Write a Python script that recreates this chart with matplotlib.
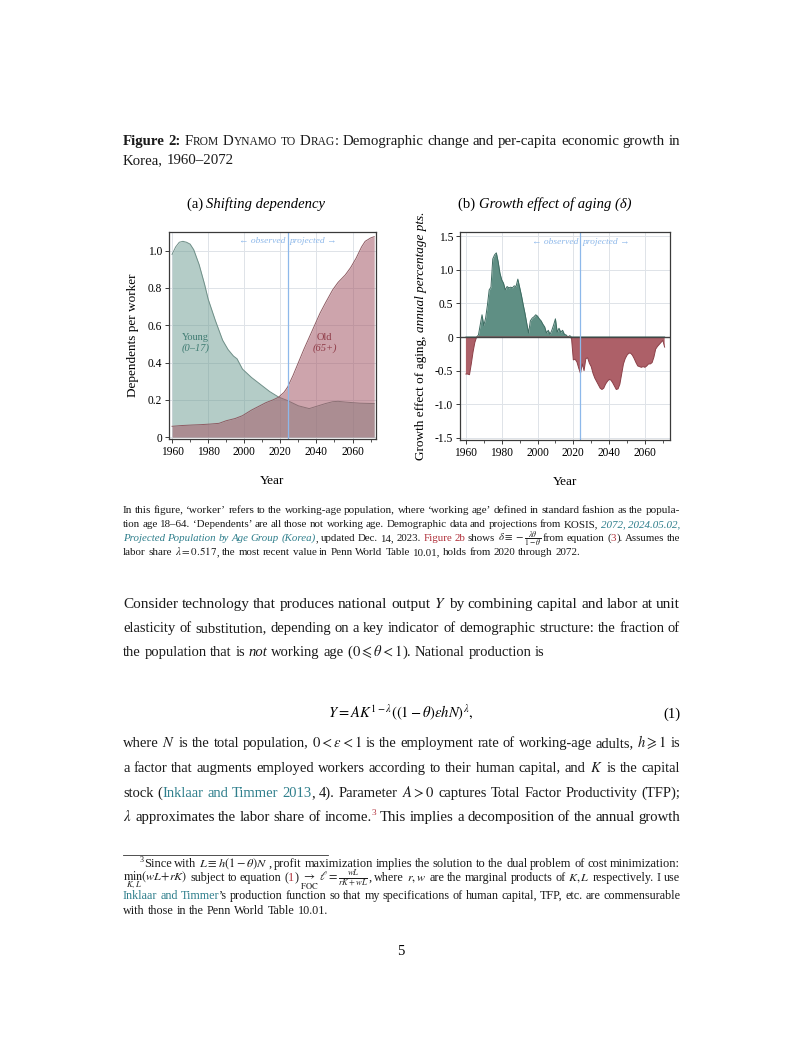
import matplotlib
matplotlib.use("Agg")
import matplotlib.pyplot as plt
import numpy as np

W, H = 802, 1037
SERIF = ["Liberation Serif", "DejaVu Serif"]
plt.rcParams["font.family"] = SERIF
plt.rcParams["mathtext.fontset"] = "stix"

# ---------------- data: panel (a) ----------------
young_years = [1960, 1962, 1964, 1966, 1968, 1970, 1972, 1975, 1978, 1980, 1984, 1988,
               1991, 1994, 1996, 1999, 2004, 2008, 2014, 2019, 2024, 2030, 2036, 2041,
               2045, 2049, 2052, 2056, 2060, 2064, 2068, 2072]
young_ratio = [0.98, 1.02, 1.045, 1.05, 1.045, 1.035, 1.005, 0.925, 0.82, 0.74, 0.625, 0.52,
               0.47, 0.435, 0.42, 0.365, 0.32, 0.29, 0.245, 0.215, 0.196, 0.168, 0.153, 0.168,
               0.18, 0.19, 0.192, 0.188, 0.185, 0.182, 0.181, 0.180]
old_years = [1960, 1965, 1971, 1976, 1981, 1986, 1990, 1995, 1999, 2004, 2008, 2012, 2016,
             2019, 2022, 2024, 2027, 2030, 2033, 2036, 2039, 2042, 2045, 2049, 2052, 2056,
             2059, 2062, 2065, 2067, 2070, 2072]
old_ratio = [0.058, 0.062, 0.065, 0.067, 0.070, 0.074, 0.088, 0.100, 0.115, 0.145, 0.165,
             0.185, 0.200, 0.214, 0.240, 0.268, 0.33, 0.40, 0.47, 0.535, 0.60, 0.665, 0.72,
             0.79, 0.83, 0.87, 0.91, 0.96, 1.02, 1.05, 1.068, 1.075]

# ---------------- data: panel (b) ----------------
delta_years = list(range(1960, 2072))
delta_vals = [-0.55, -0.55, -0.56, -0.40, -0.22, -0.08, 0.00, 0.03, 0.18, 0.33,
              0.17, 0.28, 0.47, 0.70, 0.74, 1.16, 1.22, 1.25, 1.12, 0.95,
              0.85, 0.80, 0.70, 0.75, 0.73, 0.74, 0.73, 0.76, 0.75, 0.86,
              0.74, 0.62, 0.48, 0.35, 0.20, 0.06, 0.24, 0.28, 0.30, 0.33,
              0.31, 0.27, 0.24, 0.19, 0.15, 0.06, 0.10, 0.04, 0.10, 0.18,
              0.27, 0.07, 0.13, 0.07, 0.10, 0.04, 0.03, 0.00, 0.02, -0.02,
              -0.34, -0.33, -0.37, -0.46, -0.54, -0.40, -0.50, -0.32, -0.31, -0.39,
              -0.44, -0.54, -0.61, -0.66, -0.71, -0.76, -0.78, -0.76, -0.70, -0.66,
              -0.63, -0.64, -0.68, -0.73, -0.78, -0.77, -0.70, -0.55, -0.40, -0.32,
              -0.27, -0.24, -0.24, -0.27, -0.32, -0.38, -0.43, -0.44, -0.45, -0.44,
              -0.45, -0.43, -0.40, -0.40, -0.38, -0.30, -0.18, -0.14, -0.11, -0.08,
              -0.05, -0.15]
split_year = 2024

TEAL = "#3f7c72"
RED = "#8f3b47"
BLUE = "#8db8ea"
TXT = "#1a1a1a"
LINK = "#2f7f8c"
REF = "#b0303a"

fig = plt.figure(figsize=(W / 100, H / 100), dpi=100)
R = fig.canvas.get_renderer()


def fx(x):
    return x / W


def fy(y):
    return 1 - y / H


def axes_px(l, t, r, b):
    return fig.add_axes([fx(l), fy(b), (r - l) / W, (b - t) / H])


def tokenize(segs):
    toks = [[]]
    for s, kw in segs:
        if s.startswith("$"):
            toks[-1].append((s, kw))
            continue
        parts = s.split(" ")
        for i, p in enumerate(parts):
            if i > 0:
                toks.append([])
            if p:
                toks[-1].append((p, kw))
    return [t for t in toks if t]


def space_width(size):
    a = fig.text(0, 0, "n n", fontsize=size, family=SERIF)
    b = fig.text(0, 0, "nn", fontsize=size, family=SERIF)
    sp = a.get_window_extent(R).width - b.get_window_extent(R).width
    a.remove(); b.remove()
    return max(sp, 0.25 * size * 1.389)


def build(segs, size, color=TXT):
    toks = tokenize(segs)
    objs, widths = [], []
    for tok in toks:
        parts, tw = [], 0
        for s, kw in tok:
            k = dict(fontsize=size, color=color, family=SERIF)
            k.update(kw)
            scale = k.pop("rel", None)
            if scale is not None:
                k["fontsize"] = size * scale
            rise = k.pop("rise", 0) * size
            t = fig.text(0, 0, s, va="baseline", ha="left", **k)
            w = t.get_window_extent(R).width
            parts.append((t, w, rise))
            tw += w
        objs.append(parts)
        widths.append(tw)
    return objs, widths


def natural(segs, size, x0, x1):
    objs, widths = build(segs, size)
    for parts in objs:
        for t, _, _ in parts:
            t.remove()
    return sum(widths) + space_width(size) * (len(widths) - 1), x1 - x0


def place(y, segs, size, x0=123, x1=680, justify=True):
    objs, widths = build(segs, size)
    sp = space_width(size)
    if justify and len(objs) > 1:
        gap = (x1 - x0 - sum(widths)) / (len(objs) - 1)
    else:
        gap = sp
    x = x0
    for parts in objs:
        for t, w, rise in parts:
            t.set_position((fx(x), fy(y - rise * 1.389)))
            x += w
        x += gap


def block(lines, base, spread=0.04):
    """Per-line font size close to the exact fit (with normal inter-word
    spaces), kept within +-spread of the paragraph's median size."""
    fits = []
    for y, segs, x0, just in lines:
        if just:
            nat, avail = natural(segs, base, x0, 680)
            fits.append(base * avail / nat)
    size = float(np.median(fits))
    for y, segs, x0, just in lines:
        s = size
        if just:
            nat, avail = natural(segs, base, x0, 680)
            s = min(max(base * avail / nat, size * (1 - spread)), size * (1 + spread))
        place(y, segs, s, x0=x0, justify=just)
    return size


IT = {"style": "italic"}
BF = {"weight": "bold"}
NT = {"color": LINK, "style": "italic"}
RD = {"color": REF}
LK = {"color": LINK}

# ---------------- caption ----------------
sc = {"rel": 0.78}
block([
    (145, [("Figure 2:", BF), (" F", {}), ("ROM", sc), (" D", {}), ("YNAMO", sc), (" ", {}),
           ("TO", sc), (" D", {}), ("RAG", sc),
           (": Demographic change and per-capita economic growth in", {})], 123, True),
    (164, [("Korea, 1960–2072", {})], 123, False),
], 11.0)

# ---------------- panel (a) ----------------
axa = axes_px(169, 232, 376, 439)
axa.fill_between(young_years, 0, young_ratio, color="#6a9a90", alpha=0.5, lw=0, zorder=2)
axa.plot(young_years, young_ratio, color="#6f8f88", lw=0.7, zorder=3)
axa.fill_between(old_years, 0, old_ratio, color="#a55a68", alpha=0.55, lw=0, zorder=4)
axa.plot(old_years, old_ratio, color="#8f5a62", lw=0.7, zorder=5)
axa.set_xlim(1958.3, 2073)
axa.set_ylim(-0.01, 1.1)
axa.set_xticks([1960, 1980, 2000, 2020, 2040, 2060])
axa.set_xticks(range(1960, 2080, 10), minor=True)
axa.set_yticks([0, 0.2, 0.4, 0.6, 0.8, 1.0])
axa.set_yticklabels(["0", "0.2", "0.4", "0.6", "0.8", "1.0"])
axa.set_xlabel("Year", fontsize=9.5, labelpad=12)
axa.set_ylabel("Dependents per worker", fontsize=9.5, labelpad=6)
axa.text(1973, 0.52, "Young", color=TEAL, fontsize=7.5, ha="center", va="baseline", zorder=6)
axa.text(1973, 0.465, "(0–17)", color=TEAL, fontsize=7.5, style="italic", ha="center",
         va="baseline", zorder=6)
axa.text(2044.5, 0.52, "Old", color=RED, fontsize=7.5, ha="center", va="baseline", zorder=6)
axa.text(2044.5, 0.465, "(65+)", color=RED, fontsize=7.5, style="italic", ha="center",
         va="baseline", zorder=6)

# ---------------- panel (b) ----------------
axb = axes_px(460, 232, 670, 440)
dy = np.array(delta_years)
dv = np.array(delta_vals)
axb.fill_between(dy, 0, dv, where=dv >= 0, interpolate=True, color="#5f8f84", lw=0, zorder=2)
axb.fill_between(dy, 0, dv, where=dv <= 0, interpolate=True, color="#ad6068", lw=0, zorder=2)
axb.plot(dy, np.clip(dv, 0, None), color="#3d6b61", lw=0.7, zorder=3)
axb.plot(dy, np.clip(dv, None, 0), color="#8c4048", lw=0.7, zorder=3)
axb.axhline(0, color="#444444", lw=1.0, zorder=4)
axb.set_xlim(1956.7, 2074)
axb.set_ylim(-1.53, 1.56)
axb.set_xticks([1960, 1980, 2000, 2020, 2040, 2060])
axb.set_xticks(range(1960, 2080, 10), minor=True)
axb.set_yticks([-1.5, -1.0, -0.5, 0, 0.5, 1.0, 1.5])
axb.set_yticklabels(["-1.5", "-1.0", "-0.5", "0", "0.5", "1.0", "1.5"])
axb.set_xlabel("Year", fontsize=9.5, labelpad=12)

for ax, ytxt in ((axa, 1.053), (axb, 1.41)):
    ax.grid(True, which="major", color="#dfe3e8", lw=0.7, zorder=0)
    ax.set_axisbelow(True)
    ax.axvline(split_year, color=BLUE, lw=0.9, zorder=7)
    ax.text(split_year - 1.2, ytxt, "← observed", color=BLUE, fontsize=6.8, style="italic",
            ha="right", va="center", zorder=8)
    ax.text(split_year + 1.2, ytxt, "projected →", color=BLUE, fontsize=6.8, style="italic",
            ha="left", va="center", zorder=8)
    for s in ax.spines.values():
        s.set_color("#3a3a3a")
        s.set_linewidth(0.9)
        s.set_zorder(9)
    ax.tick_params(axis="both", which="major", labelsize=8.3, length=3, width=0.7,
                   color="#3a3a3a", pad=2)
    ax.tick_params(axis="x", which="minor", length=2, width=0.6, color="#3a3a3a")

# y label for (b) with italic part
ys = 9.5
t1 = fig.text(0, 0, "Growth effect of aging, ", fontsize=ys, rotation=90,
              rotation_mode="anchor", ha="left", va="baseline")
t2 = fig.text(0, 0, "annual percentage pts.", fontsize=ys, style="italic", rotation=90,
              rotation_mode="anchor", ha="left", va="baseline")
w1 = t1.get_window_extent(R).height
w2 = t2.get_window_extent(R).height
yc = 336
xb = 424
t1.set_position((fx(xb), fy(yc + (w1 + w2) / 2)))
t2.set_position((fx(xb), fy(yc + (w1 + w2) / 2 - w1)))


def subtitle(xc, y, a, b):
    ta = fig.text(0, 0, a, fontsize=10.5, va="baseline", ha="left")
    tb = fig.text(0, 0, b, fontsize=10.5, style="italic", va="baseline", ha="left")
    wa = ta.get_window_extent(R).width
    wb = tb.get_window_extent(R).width
    x0 = xc - (wa + wb) / 2
    ta.set_position((fx(x0), fy(y)))
    tb.set_position((fx(x0 + wa), fy(y)))


subtitle(256, 208, "(a) ", "Shifting dependency")
subtitle(545, 208, "(b) ", "Growth effect of aging (δ)")

# ---------------- notes ----------------
block([
    (513, [("In this figure, ‘worker’ refers to the working-age population, where ‘working age’ defined in standard fashion as the popula-", {})], 123, True),
    (527, [("tion age 18–64. ‘Dependents’ are all those not working age. Demographic data and projections from KOSIS, ", {}),
           ("2072, 2024.05.02,", NT)], 123, True),
    (541, [("Projected Population by Age Group (Korea)", NT), (", updated Dec. 14, 2023. ", {}),
           ("Figure 2b", RD), (" shows ", {}), (r"$\delta \equiv -\frac{\lambda\theta}{1-\theta}$", {}),
           (" from equation (", {}), ("3", RD), ("). Assumes the", {})], 123, True),
    (555, [("labor share ", {}), (r"$\lambda = 0.517$", {}),
           (", the most recent value in Penn World Table 10.01, holds from 2020 through 2072.", {})], 123, False),
], 8.3)

# ---------------- body ----------------
bsize = block([
    (608, [("Consider technology that produces national output ", {}), ("$Y$", {}),
           (" by combining capital and labor at unit", {})], 123, True),
    (632, [("elasticity of substitution, depending on a key indicator of demographic structure: the fraction of", {})], 123, True),
    (656, [("the population that is ", {}), ("not", IT), (" working age (", {}),
           (r"$0 \leqslant \theta < 1$", {}), ("). National production is", {})], 123, False),
    (747, [("where ", {}), ("$N$", {}), (" is the total population, ", {}), (r"$0 < \varepsilon < 1$", {}),
           (" is the employment rate of working-age adults, ", {}), (r"$h \geqslant 1$", {}), (" is", {})], 123, True),
    (772, [("a factor that augments employed workers according to their human capital, and ", {}), ("$K$", {}),
           (" is the capital", {})], 123, True),
    (797, [("stock (", {}), ("Inklaar and Timmer 2013", LK), (", 4). Parameter ", {}), ("$A > 0$", {}),
           (" captures Total Factor Productivity (TFP);", {})], 123, True),
    (821, [(r"$\lambda$", {}), (" approximates the labor share of income.", {}),
           ("3", {"color": REF, "rel": 0.62, "rise": 0.38}),
           (" This implies a decomposition of the annual growth", {})], 123, True),
], 11.6)

fig.text(fx(401), fy(718),
         r"$Y = AK^{1-\lambda}\left(\left(1-\theta\right)\varepsilon h N\right)^{\lambda},$",
         fontsize=bsize, ha="center", va="baseline")
fig.text(fx(680), fy(718), "(1)", fontsize=bsize, ha="right", va="baseline")

# ---------------- footnote ----------------
fig.add_artist(plt.Line2D([fx(123), fx(328)], [fy(854.5), fy(854.5)], color="#333333", lw=0.6))
block([
    (867, [("3", {"rel": 0.65, "rise": 0.38}), ("Since with ", {}), (r"$L \equiv h(1-\theta)N$", {}),
           (", profit maximization implies the solution to the dual problem of cost minimization:", {})],
     140, True),
    (881, [(r"$\min_{K,L}(wL + rK)$", {}), (" subject to equation (", {}), ("1", RD), (")", {}),
           (r"$\;\underset{\mathrm{FOC}}{\rightarrow}\;\ell = \frac{wL}{rK+wL}$", {}),
           (", where ", {}), ("$r, w$", {}), (" are the marginal products of ", {}), ("$K, L$", {}),
           (" respectively. I use", {})], 123, True),
    (899, [("Inklaar and Timmer", LK),
           ("’s production function so that my specifications of human capital, TFP, etc. are commensurable", {})],
     123, True),
    (914, [("with those in the Penn World Table 10.01.", {})], 123, False),
], 8.3)

fig.text(fx(401), fy(955), "5", fontsize=bsize, ha="center", va="baseline")

fig.savefig("out.png", dpi=100)
